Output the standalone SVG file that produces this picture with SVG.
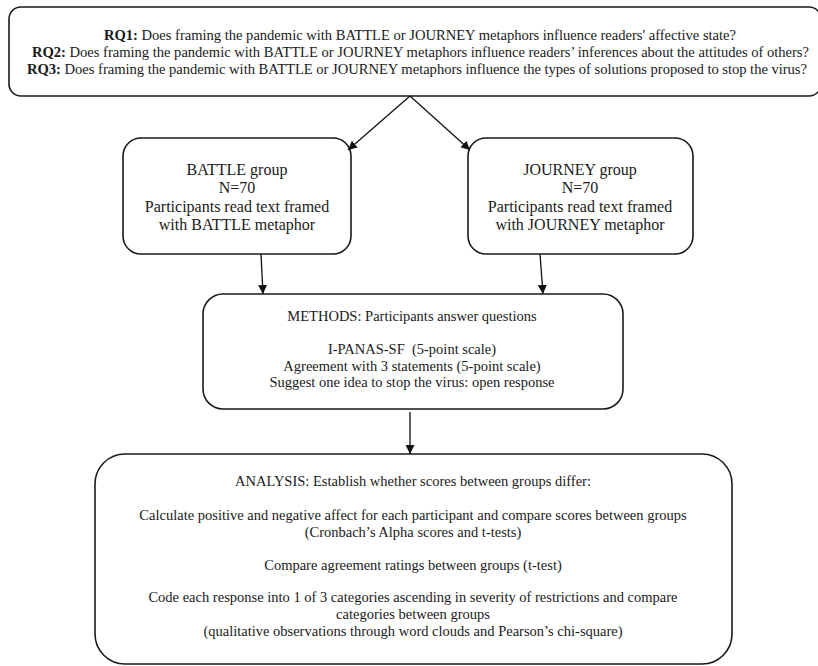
<svg xmlns="http://www.w3.org/2000/svg" width="818" height="666" viewBox="0 0 818 666">
<defs>
<marker id="ah" viewBox="0 0 10 10" refX="10" refY="5" markerWidth="9" markerHeight="9" markerUnits="userSpaceOnUse" orient="auto">
<path d="M0,0 L10,5 L0,10 z" fill="#111"/>
</marker>
<style>
.box{fill:#fff;stroke:#1a1a1a;stroke-width:1.6}
.t{font-family:"Liberation Serif","Times New Roman",serif;fill:#1a1a1a;text-anchor:middle}
.rq{font-size:14.6px}
.g{font-size:16px}
.m{font-size:14.5px}
.a{font-size:14.5px}
.c{fill:none;stroke:#111;stroke-width:1.3}
</style>
</defs>
<rect width="818" height="666" fill="#fff"/>
<g id="rq">
<rect class="box" x="9" y="7" width="812" height="89" rx="12"/>
<text class="t rq" x="420" y="40" textLength="632"><tspan font-weight="bold">RQ1:</tspan> Does framing the pandemic with BATTLE or JOURNEY metaphors influence readers' affective state?</text>
<text class="t rq" x="420.5" y="57" textLength="777"><tspan font-weight="bold">RQ2:</tspan> Does framing the pandemic with BATTLE or JOURNEY metaphors influence readers’ inferences about the attitudes of others?</text>
<text class="t rq" x="417" y="74" textLength="780"><tspan font-weight="bold">RQ3:</tspan> Does framing the pandemic with BATTLE or JOURNEY metaphors influence the types of solutions proposed to stop the virus?</text>
</g>
<g id="battle">
<rect class="box" x="123" y="138" width="228" height="116" rx="18"/>
<text class="t g" x="237" y="175">BATTLE group</text>
<text class="t g" x="237" y="193">N=70</text>
<text class="t g" x="237" y="212">Participants read text framed</text>
<text class="t g" x="237" y="230">with BATTLE metaphor</text>
</g>
<g id="journey">
<rect class="box" x="468" y="138" width="225" height="116" rx="18"/>
<text class="t g" x="580" y="175">JOURNEY group</text>
<text class="t g" x="580" y="193">N=70</text>
<text class="t g" x="580" y="212">Participants read text framed</text>
<text class="t g" x="580" y="230">with JOURNEY metaphor</text>
</g>
<g id="methods">
<rect class="box" x="203" y="294" width="420" height="115" rx="20"/>
<text class="t m" x="412" y="321">METHODS: Participants answer questions</text>
<text class="t m" x="412" y="354">I-PANAS-SF&#160; (5-point scale)</text>
<text class="t m" x="412" y="371">Agreement with 3 statements (5-point scale)</text>
<text class="t m" x="412" y="387">Suggest one idea to stop the virus: open response</text>
</g>
<g id="analysis">
<rect class="box" x="95" y="454" width="637" height="210" rx="30"/>
<text class="t a" x="413" y="486">ANALYSIS: Establish whether scores between groups differ:</text>
<text class="t a" x="413" y="520">Calculate positive and negative affect for each participant and compare scores between groups</text>
<text class="t a" x="413" y="537">(Cronbach’s Alpha scores and t-tests)</text>
<text class="t a" x="413" y="570">Compare agreement ratings between groups (t-test)</text>
<text class="t a" x="413" y="602">Code each response into 1 of 3 categories ascending in severity of restrictions and compare</text>
<text class="t a" x="413" y="619">categories between groups</text>
<text class="t a" x="413" y="636">(qualitative observations through word clouds and Pearson’s chi-square)</text>
</g>
<g id="connectors">
<line class="c" x1="410" y1="96" x2="348" y2="150" marker-end="url(#ah)"/>
<line class="c" x1="410" y1="96" x2="470" y2="150" marker-end="url(#ah)"/>
<line class="c" x1="261" y1="254" x2="263" y2="294" marker-end="url(#ah)"/>
<line class="c" x1="540" y1="254" x2="543" y2="294" marker-end="url(#ah)"/>
<line class="c" x1="410" y1="412" x2="410" y2="454" marker-end="url(#ah)"/>
</g>
</svg>
